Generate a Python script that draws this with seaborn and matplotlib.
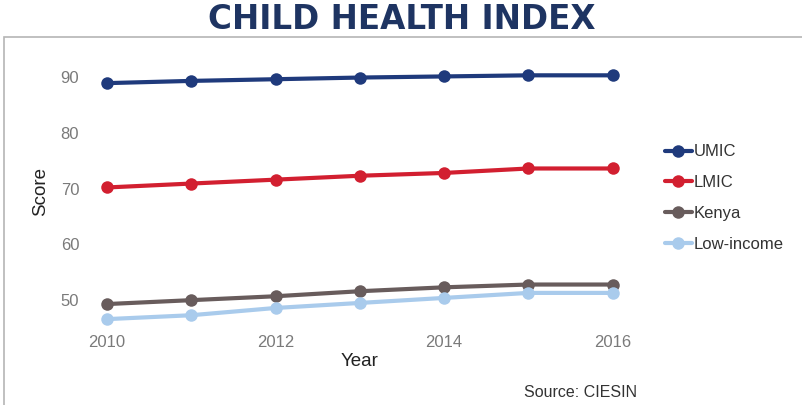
import pandas as pd
import matplotlib.pyplot as plt
import seaborn as sns
from matplotlib.patches import Rectangle

years = [2010, 2011, 2012, 2013, 2014, 2015, 2016]
umic = [88.9, 89.3, 89.6, 89.9, 90.1, 90.3, 90.3]
lmic = [70.2, 70.9, 71.6, 72.3, 72.8, 73.6, 73.6]
kenya = [49.3, 50.0, 50.7, 51.6, 52.3, 52.8, 52.8]
low_income = [46.6, 47.3, 48.6, 49.5, 50.4, 51.3, 51.3]

series = {"UMIC": umic, "LMIC": lmic, "Kenya": kenya, "Low-income": low_income}
palette = {"UMIC": "#1f3a7c", "LMIC": "#d21f30", "Kenya": "#685c5c", "Low-income": "#a9cbec"}

df = pd.DataFrame([
    {"Year": y, "Score": v, "Group": name}
    for name, vals in series.items()
    for y, v in zip(years, vals)
])

sns.set_style("white")
plt.rcParams['font.family'] = ['Liberation Sans', 'DejaVu Sans']

fig = plt.figure(figsize=(8.03, 4.05), dpi=100)
ax = fig.add_axes([0.1176, 0.19, 0.661, 0.675])

sns.lineplot(data=df, x="Year", y="Score", hue="Group", palette=palette,
             marker="o", markersize=9, markeredgewidth=0, linewidth=3, ax=ax)

ax.set_xlim(2009.85, 2016.15)
ax.set_ylim(45, 94)
ax.set_xticks([2010, 2012, 2014, 2016])
ax.set_yticks([50, 60, 70, 80, 90])
ax.tick_params(colors="#7a7a7a", labelsize=12, length=0)
ax.tick_params(axis="x", pad=5)
ax.tick_params(axis="y", pad=11)
ax.set_xlabel("Year", fontsize=13.5, color="#222222", labelpad=2)
ax.set_ylabel("Score", fontsize=13.5, color="#222222", labelpad=8)
for s in ax.spines.values():
    s.set_visible(False)

leg = ax.legend(loc="center left", bbox_to_anchor=(1.047, 0.475), frameon=False,
                fontsize=12, handlelength=1.6, handletextpad=0.1, labelspacing=0.95)
for t in leg.get_texts():
    t.set_color("#333333")

fig.text(0.5, 0.953, "CHILD HEALTH INDEX", ha="center", va="center",
         fontsize=23.5, fontweight="bold", color="#1e3462", family=["DejaVu Sans"])
fig.text(0.793, 0.032, "Source: CIESIN", ha="right", va="center", fontsize=11.5, color="#333333")
fig.patches.append(Rectangle((0.005, -0.01), 1.2, 0.918, transform=fig.transFigure,
                             fill=False, edgecolor="#b5b5b5", linewidth=1.2))

fig.savefig("out.png", dpi=100)
